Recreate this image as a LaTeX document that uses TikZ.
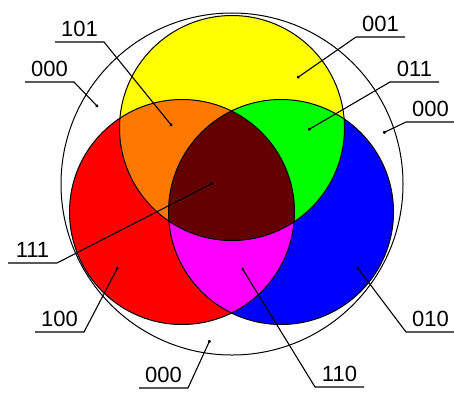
\documentclass[tikz,border=0pt]{standalone}
\usepackage{fontspec}
\setmainfont{Liberation Sans}
\usetikzlibrary{arrows.meta}
\definecolor{setYellow}{RGB}{255,255,0}
\definecolor{setRed}{RGB}{255,0,0}
\definecolor{setBlue}{RGB}{0,0,255}
\definecolor{mixGreen}{RGB}{0,255,0}
\definecolor{mixMagenta}{RGB}{255,0,255}
\definecolor{mixOrange}{RGB}{255,120,0}
\definecolor{coreRed}{RGB}{100,0,0}

\begin{document}
\begin{tikzpicture}[x=1pt, y=-1pt, line width=1pt,
    lbl/.style={inner xsep=0pt, inner ysep=5pt, minimum width=48pt, font=\fontsize{22}{26}\selectfont},
    leader/.style={line width=1.1pt, -{Circle[length=3pt]}}]
    \useasboundingbox (0,0) rectangle (454,394);
    \def\rr{112.5pt}
    \coordinate (cy) at (232,128);
    \coordinate (cr) at (182,212);
    \coordinate (cb) at (281,212);
    \coordinate (co) at (232,184);

    \fill[setYellow] (cy) circle[radius=\rr];
    \fill[setRed] (cr) circle[radius=\rr];
    \fill[setBlue] (cb) circle[radius=\rr];
    \begin{scope}
        \clip (cr) circle[radius=\rr];
        \fill[mixMagenta] (cb) circle[radius=\rr];
    \end{scope}
    \begin{scope}
        \clip (cy) circle[radius=\rr];
        \fill[mixOrange] (cr) circle[radius=\rr];
        \fill[mixGreen] (cb) circle[radius=\rr];
        \clip (cr) circle[radius=\rr];
        \fill[coreRed] (cb) circle[radius=\rr];
    \end{scope}
    \draw (cy) circle[radius=\rr];
    \draw (cr) circle[radius=\rr];
    \draw (cb) circle[radius=\rr];
    \draw (co) circle[radius=171pt];

    \node[lbl, anchor=south west] (l101) at (55,42) {101};
    \node[lbl, anchor=south west] (l000a) at (25,82) {000};
    \node[lbl, anchor=south west] (l001) at (356,37) {001};
    \node[lbl, anchor=south west] (l011) at (390,82) {011};
    \node[lbl, anchor=south west] (l000b) at (406,122) {000};
    \node[lbl, anchor=south west] (l111) at (8,263) {111};
    \node[lbl, anchor=south west] (l100) at (35,332) {100};
    \node[lbl, anchor=south west] (l000c) at (139,388) {000};
    \node[lbl, anchor=south west] (l110) at (315,387) {110};
    \node[lbl, anchor=south west] (l010) at (406,332) {010};

    \coordinate (p101) at (172,126);
    \coordinate (p000a) at (98,107);
    \coordinate (p001) at (297,78);
    \coordinate (p011) at (308,130);
    \coordinate (p000b) at (383,133);
    \coordinate (p111) at (213,183);
    \coordinate (p100) at (118,267);
    \coordinate (p000c) at (210,340);
    \coordinate (p110) at (242,268);
    \coordinate (p010) at (357,267);

    \draw[leader] (l101.south west) -- (l101.south east) -- (p101);
    \draw[leader] (l000a.south west) -- (l000a.south east) -- (p000a);
    \draw[leader] (l001.south east) -- (l001.south west) -- (p001);
    \draw[leader] (l011.south east) -- (l011.south west) -- (p011);
    \draw[leader] (l000b.south east) -- (l000b.south west) -- (p000b);
    \draw[leader] (l111.south west) -- (l111.south east) -- (p111);
    \draw[leader] (l100.south west) -- (l100.south east) -- (p100);
    \draw[leader] (l000c.south west) -- (l000c.south east) -- (p000c);
    \draw[leader] (l110.south east) -- (l110.south west) -- (p110);
    \draw[leader] (l010.south east) -- (l010.south west) -- (p010);
\end{tikzpicture}
\end{document}
